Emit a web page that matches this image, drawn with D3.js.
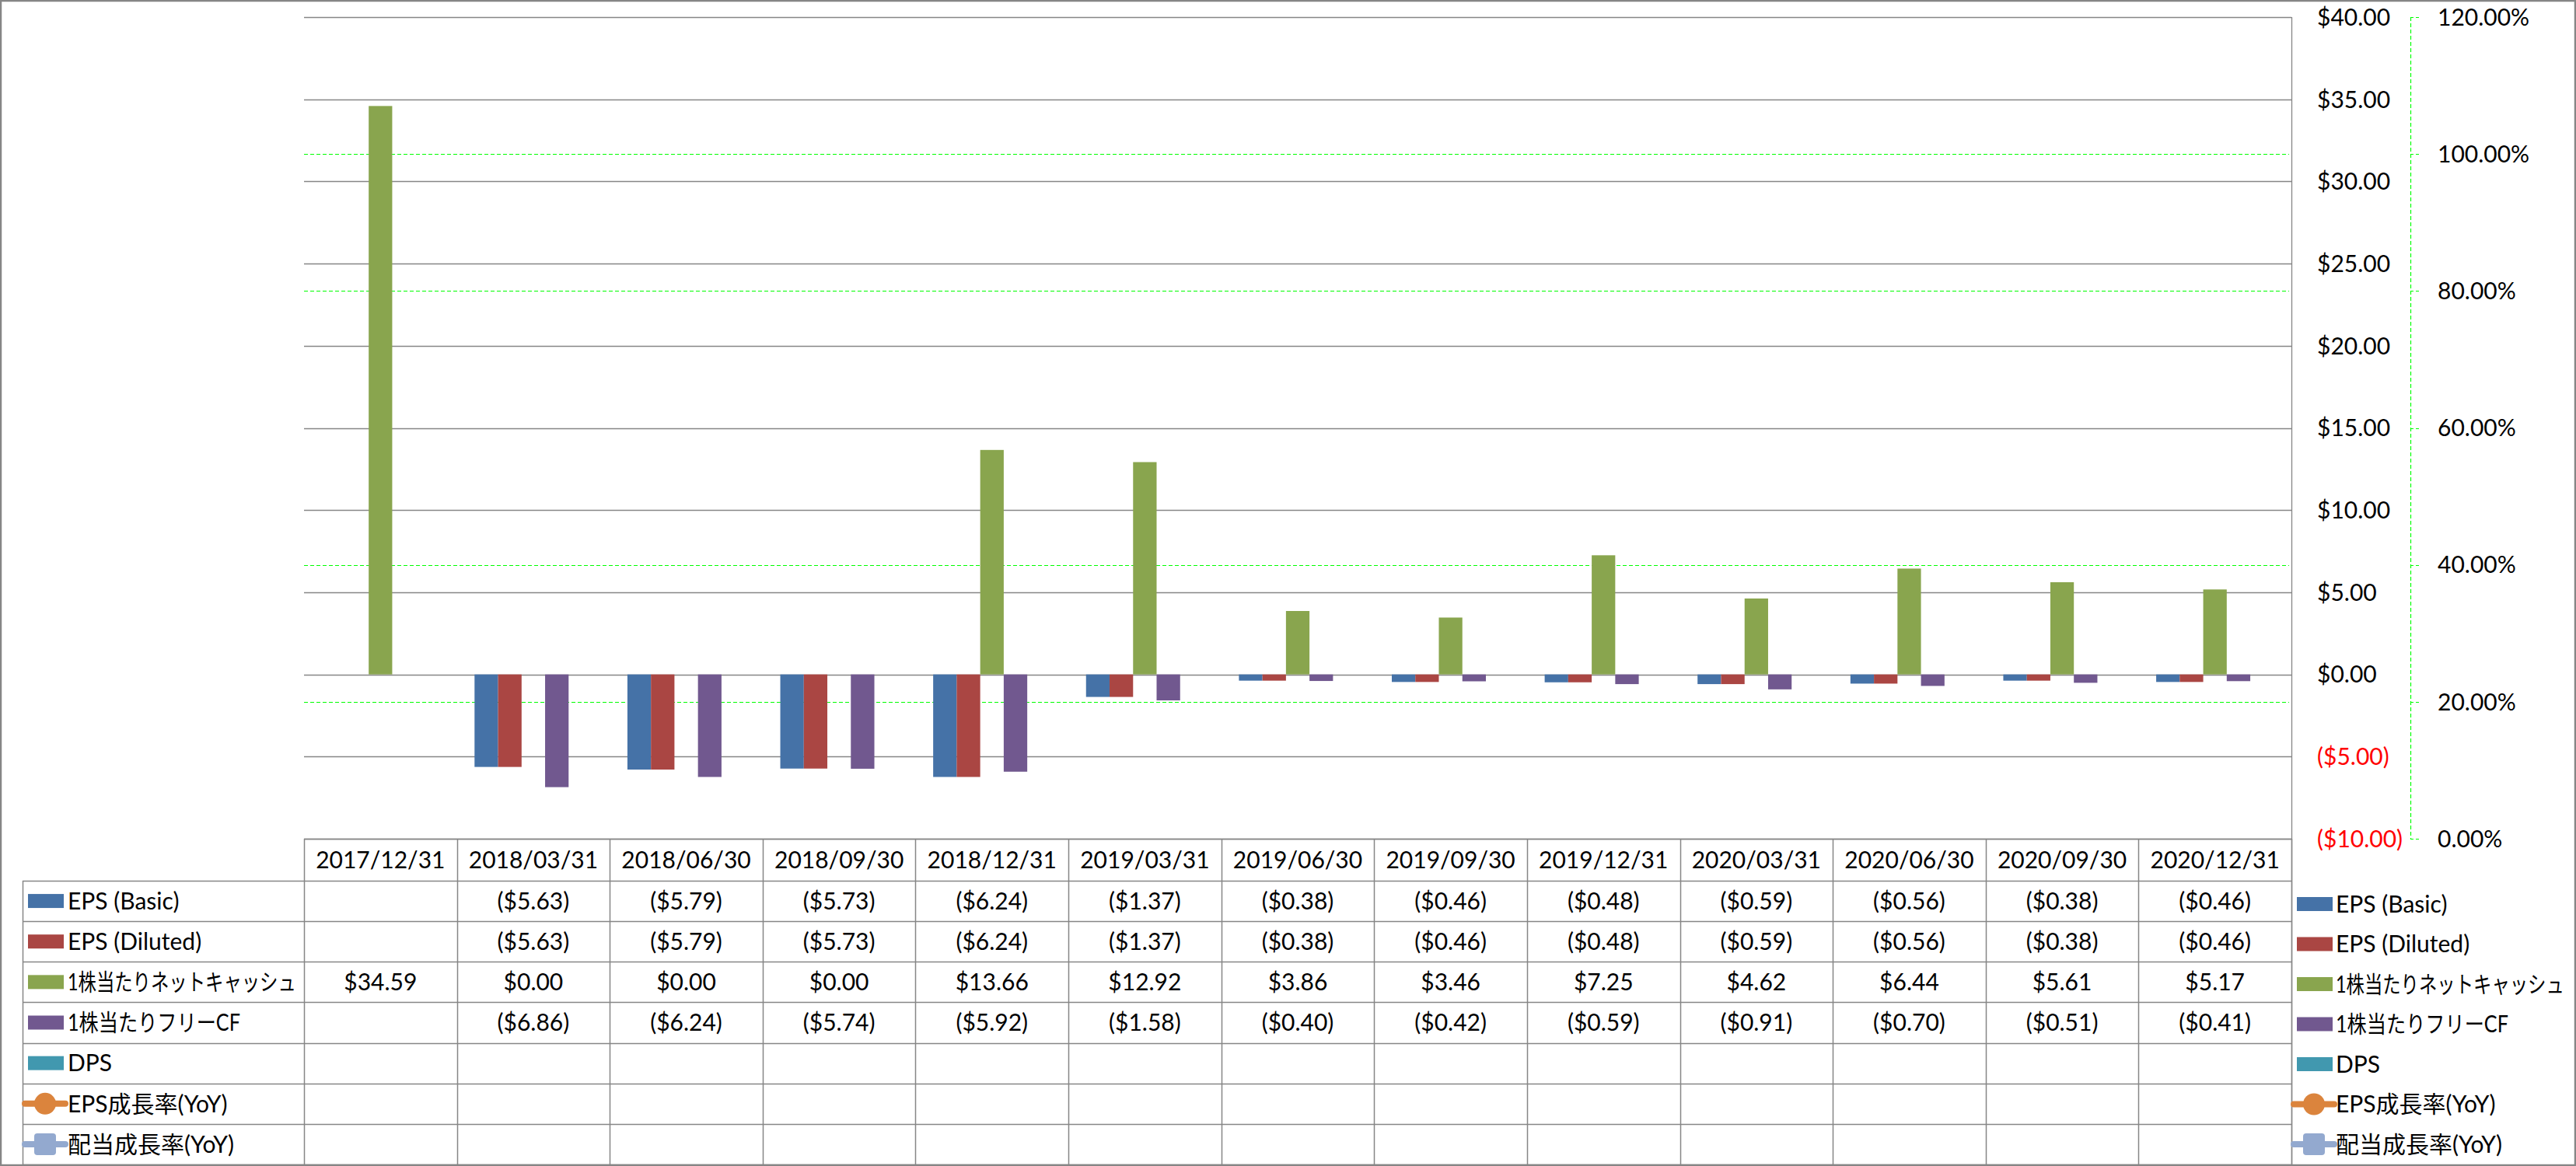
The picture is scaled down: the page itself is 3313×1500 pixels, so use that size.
<!DOCTYPE html>
<html><head><meta charset="utf-8">
<script src="https://cdn.jsdelivr.net/npm/d3@7"></script>
<style>
html,body{margin:0;padding:0;background:#fff;}
svg text{font-family:Lato,"Noto Sans CJK JP",sans-serif;}
</style></head>
<body>
<svg id="chart" width="3313" height="1500"></svg>
<script>
const categories = ['2017/12/31','2018/03/31','2018/06/30','2018/09/30','2018/12/31','2019/03/31','2019/06/30','2019/09/30','2019/12/31','2020/03/31','2020/06/30','2020/09/30','2020/12/31'];
const seriesNames = ['EPS (Basic)','EPS (Diluted)','1株当たりネットキャッシュ','1株当たりフリーCF','DPS','EPS成長率(YoY)','配当成長率(YoY)'];
const epsBasic   = [null,-5.63,-5.79,-5.73,-6.24,-1.37,-0.38,-0.46,-0.48,-0.59,-0.56,-0.38,-0.46];
const epsDiluted = [null,-5.63,-5.79,-5.73,-6.24,-1.37,-0.38,-0.46,-0.48,-0.59,-0.56,-0.38,-0.46];
const netCash    = [34.59,0.00,0.00,0.00,13.66,12.92,3.86,3.46,7.25,4.62,6.44,5.61,5.17];
const freeCF     = [null,-6.86,-6.24,-5.74,-5.92,-1.58,-0.40,-0.42,-0.59,-0.91,-0.70,-0.51,-0.41];
const dps        = [null,null,null,null,null,null,null,null,null,null,null,null,null];
const epsGrowth  = [null,null,null,null,null,null,null,null,null,null,null,null,null];
const divGrowth  = [null,null,null,null,null,null,null,null,null,null,null,null,null];
const leftTicks = [-10,-5,0,5,10,15,20,25,30,35,40];
const pctTicks = [0,0.2,0.4,0.6,0.8,1.0,1.2];
const colors = ['#4572A7','#AA4643','#89A54E','#71588F','#4198AF','#DB843D','#93A9CF'];

const barSeries = [epsBasic, epsDiluted, netCash, freeCF, dps];
const allSeries = [epsBasic, epsDiluted, netCash, freeCF, dps, epsGrowth, divGrowth];

const svg = d3.select('#chart');
const W = 3313, H = 1500;
const L = 391, R = 2947, T = 22, B = 1079;
const gridColor = '#868686';
const FS = 30;

const x0 = d3.scaleBand().domain(categories).range([L, R]).paddingInner(0.2308).paddingOuter(0.1154);
const step = x0.step();
const x1 = d3.scaleBand().domain(d3.range(5)).range([0, x0.bandwidth()]);
const y = d3.scaleLinear().domain([-10, 40]).range([B, T]);
const y2 = d3.scaleLinear().domain([0, 1.2]).range([B, T]);

const fmt = d => d == null ? '' : (d < 0 ? '($' + (-d).toFixed(2) + ')' : '$' + d.toFixed(2));

svg.append('rect').attr('x',0).attr('y',0).attr('width',W).attr('height',H).attr('fill','#fff');

// secondary (percent) gridlines
svg.append('g').selectAll('line').data(pctTicks.filter(t => t > 0 && t < 1.2)).join('line')
  .attr('x1', L).attr('x2', R - 3).attr('y1', d => Math.round(y2(d)) + 0.5).attr('y2', d => Math.round(y2(d)) + 0.5)
  .attr('stroke', '#00FF00').attr('stroke-width', 1.2).attr('stroke-dasharray', '5,3');

// primary gridlines
svg.append('g').selectAll('line').data(leftTicks).join('line')
  .attr('x1', L).attr('x2', R).attr('y1', d => Math.round(y(d)) + 0.5).attr('y2', d => Math.round(y(d)) + 0.5)
  .attr('stroke', gridColor).attr('stroke-width', 1.3);

// bars
barSeries.forEach((s, si) => {
  svg.append('g').selectAll('rect').data(s.map((v, i) => ({v, c: categories[i]})).filter(d => d.v != null && d.v !== 0)).join('rect')
    .attr('x', d => x0(d.c) + x1(si))
    .attr('width', x1.bandwidth())
    .attr('y', d => y(Math.max(0, d.v)))
    .attr('height', d => Math.abs(y(d.v) - y(0)))
    .attr('fill', colors[si]);
});

// primary axis (right side)
svg.append('line').attr('x1', R + 0.5).attr('x2', R + 0.5).attr('y1', T).attr('y2', H - 2)
  .attr('stroke', gridColor).attr('stroke-width', 1.3);
svg.append('g').selectAll('text').data(leftTicks).join('text')
  .attr('x', 2980).attr('y', d => y(d)).attr('dy', '0.36em')
  .attr('font-size', FS).attr('fill', d => d < 0 ? '#FF0000' : '#000')
  .text(d => d < 0 ? '($' + (-d).toFixed(2) + ')' : '$' + d.toFixed(2));

// secondary axis
const ax2 = 3100;
svg.append('line').attr('x1', ax2 + 0.5).attr('x2', ax2 + 0.5).attr('y1', T).attr('y2', B)
  .attr('stroke', '#00FF00').attr('stroke-width', 1.2).attr('stroke-dasharray', '5,3');
svg.append('g').selectAll('line').data(pctTicks).join('line')
  .attr('x1', ax2).attr('x2', ax2 + 12).attr('y1', d => Math.round(y2(d)) + 0.5).attr('y2', d => Math.round(y2(d)) + 0.5)
  .attr('stroke', '#00FF00').attr('stroke-width', 1.2).attr('stroke-dasharray', '4,3');
svg.append('g').selectAll('text').data(pctTicks).join('text')
  .attr('x', 3135).attr('y', d => y2(d)).attr('dy', '0.36em')
  .attr('font-size', FS).attr('fill', '#000')
  .text(d => (d * 100).toFixed(2) + '%');

// data table
const rowTop = 1133, rowBot = 1498;
const rowH = (rowBot - rowTop) / seriesNames.length;
const tLeft = 29;
const tg = svg.append('g');
const lineAttr = sel => sel.attr('stroke', gridColor).attr('stroke-width', 1.5);
tg.append('line').attr('x1', L).attr('x2', R).attr('y1', B + 0.5).attr('y2', B + 0.5).call(lineAttr);
d3.range(seriesNames.length + 1).forEach(i => {
  const yy = Math.round(rowTop + i * rowH) + 0.5;
  tg.append('line').attr('x1', tLeft).attr('x2', R).attr('y1', yy).attr('y2', yy).call(lineAttr);
});
tg.append('line').attr('x1', tLeft + 0.5).attr('x2', tLeft + 0.5).attr('y1', rowTop).attr('y2', rowBot).call(lineAttr);
d3.range(categories.length + 1).forEach(i => {
  const xx = Math.round(L + i * step) + 0.5;
  tg.append('line').attr('x1', xx).attr('x2', xx).attr('y1', B).attr('y2', rowBot).call(lineAttr);
});
tg.selectAll('text.hdr').data(categories).join('text').attr('class', 'hdr')
  .attr('x', d => x0(d) + x1.bandwidth() * 2.5).attr('y', (B + rowTop) / 2).attr('dy', '0.36em')
  .attr('text-anchor', 'middle').attr('font-size', FS).attr('fill', '#000').text(d => d);
allSeries.forEach((s, si) => {
  const cy = rowTop + (si + 0.5) * rowH;
  tg.append('g').selectAll('text').data(s.map((v, i) => ({v, c: categories[i]}))).join('text')
    .attr('x', d => x0(d.c) + x1.bandwidth() * 2.5).attr('y', cy).attr('dy', '0.36em')
    .attr('text-anchor', 'middle').attr('font-size', FS).attr('fill', '#000')
    .text(d => fmt(d.v));
});

function drawKey(g, si, sx, cy) {
  if (si < 5) {
    g.append('rect').attr('x', sx).attr('y', cy - 9).attr('width', 46).attr('height', 18).attr('fill', colors[si]);
  } else {
    g.append('line').attr('x1', sx - 4).attr('x2', sx + 48).attr('y1', cy).attr('y2', cy)
      .attr('stroke', colors[si]).attr('stroke-width', 8).attr('stroke-linecap', 'round');
    if (si === 5) {
      g.append('circle').attr('cx', sx + 22).attr('cy', cy).attr('r', 14).attr('fill', colors[si]);
    } else {
      g.append('rect').attr('x', sx + 8).attr('y', cy - 14).attr('width', 28).attr('height', 28).attr('rx', 4).attr('fill', colors[si]);
    }
  }
}
const targetLen = {2: 294, 3: 222};
function drawLabel(g, si, tx, cy) {
  const t = g.append('text').attr('x', 0).attr('y', 0).attr('dy', '0.36em')
    .attr('font-size', FS).attr('fill', '#000').text(seriesNames[si]);
  let sx = 1;
  if (targetLen[si]) {
    const nat = t.node().getComputedTextLength();
    if (nat > 0) sx = targetLen[si] / nat;
  }
  t.attr('transform', `translate(${tx},${cy}) scale(${sx},1)`);
}
seriesNames.forEach((n, si) => {
  const cy = rowTop + (si + 0.5) * rowH;
  drawKey(tg, si, 36, cy);
  drawLabel(tg, si, 87, cy);
});
const lg = svg.append('g');
seriesNames.forEach((n, si) => {
  const cy = 1163 + si * 51.5;
  drawKey(lg, si, 2954, cy);
  drawLabel(lg, si, 3004, cy);
});

svg.append('rect').attr('x', 1).attr('y', 1).attr('width', W - 2).attr('height', H - 2)
  .attr('fill', 'none').attr('stroke', '#868686').attr('stroke-width', 2.5);
</script>
</body></html>
